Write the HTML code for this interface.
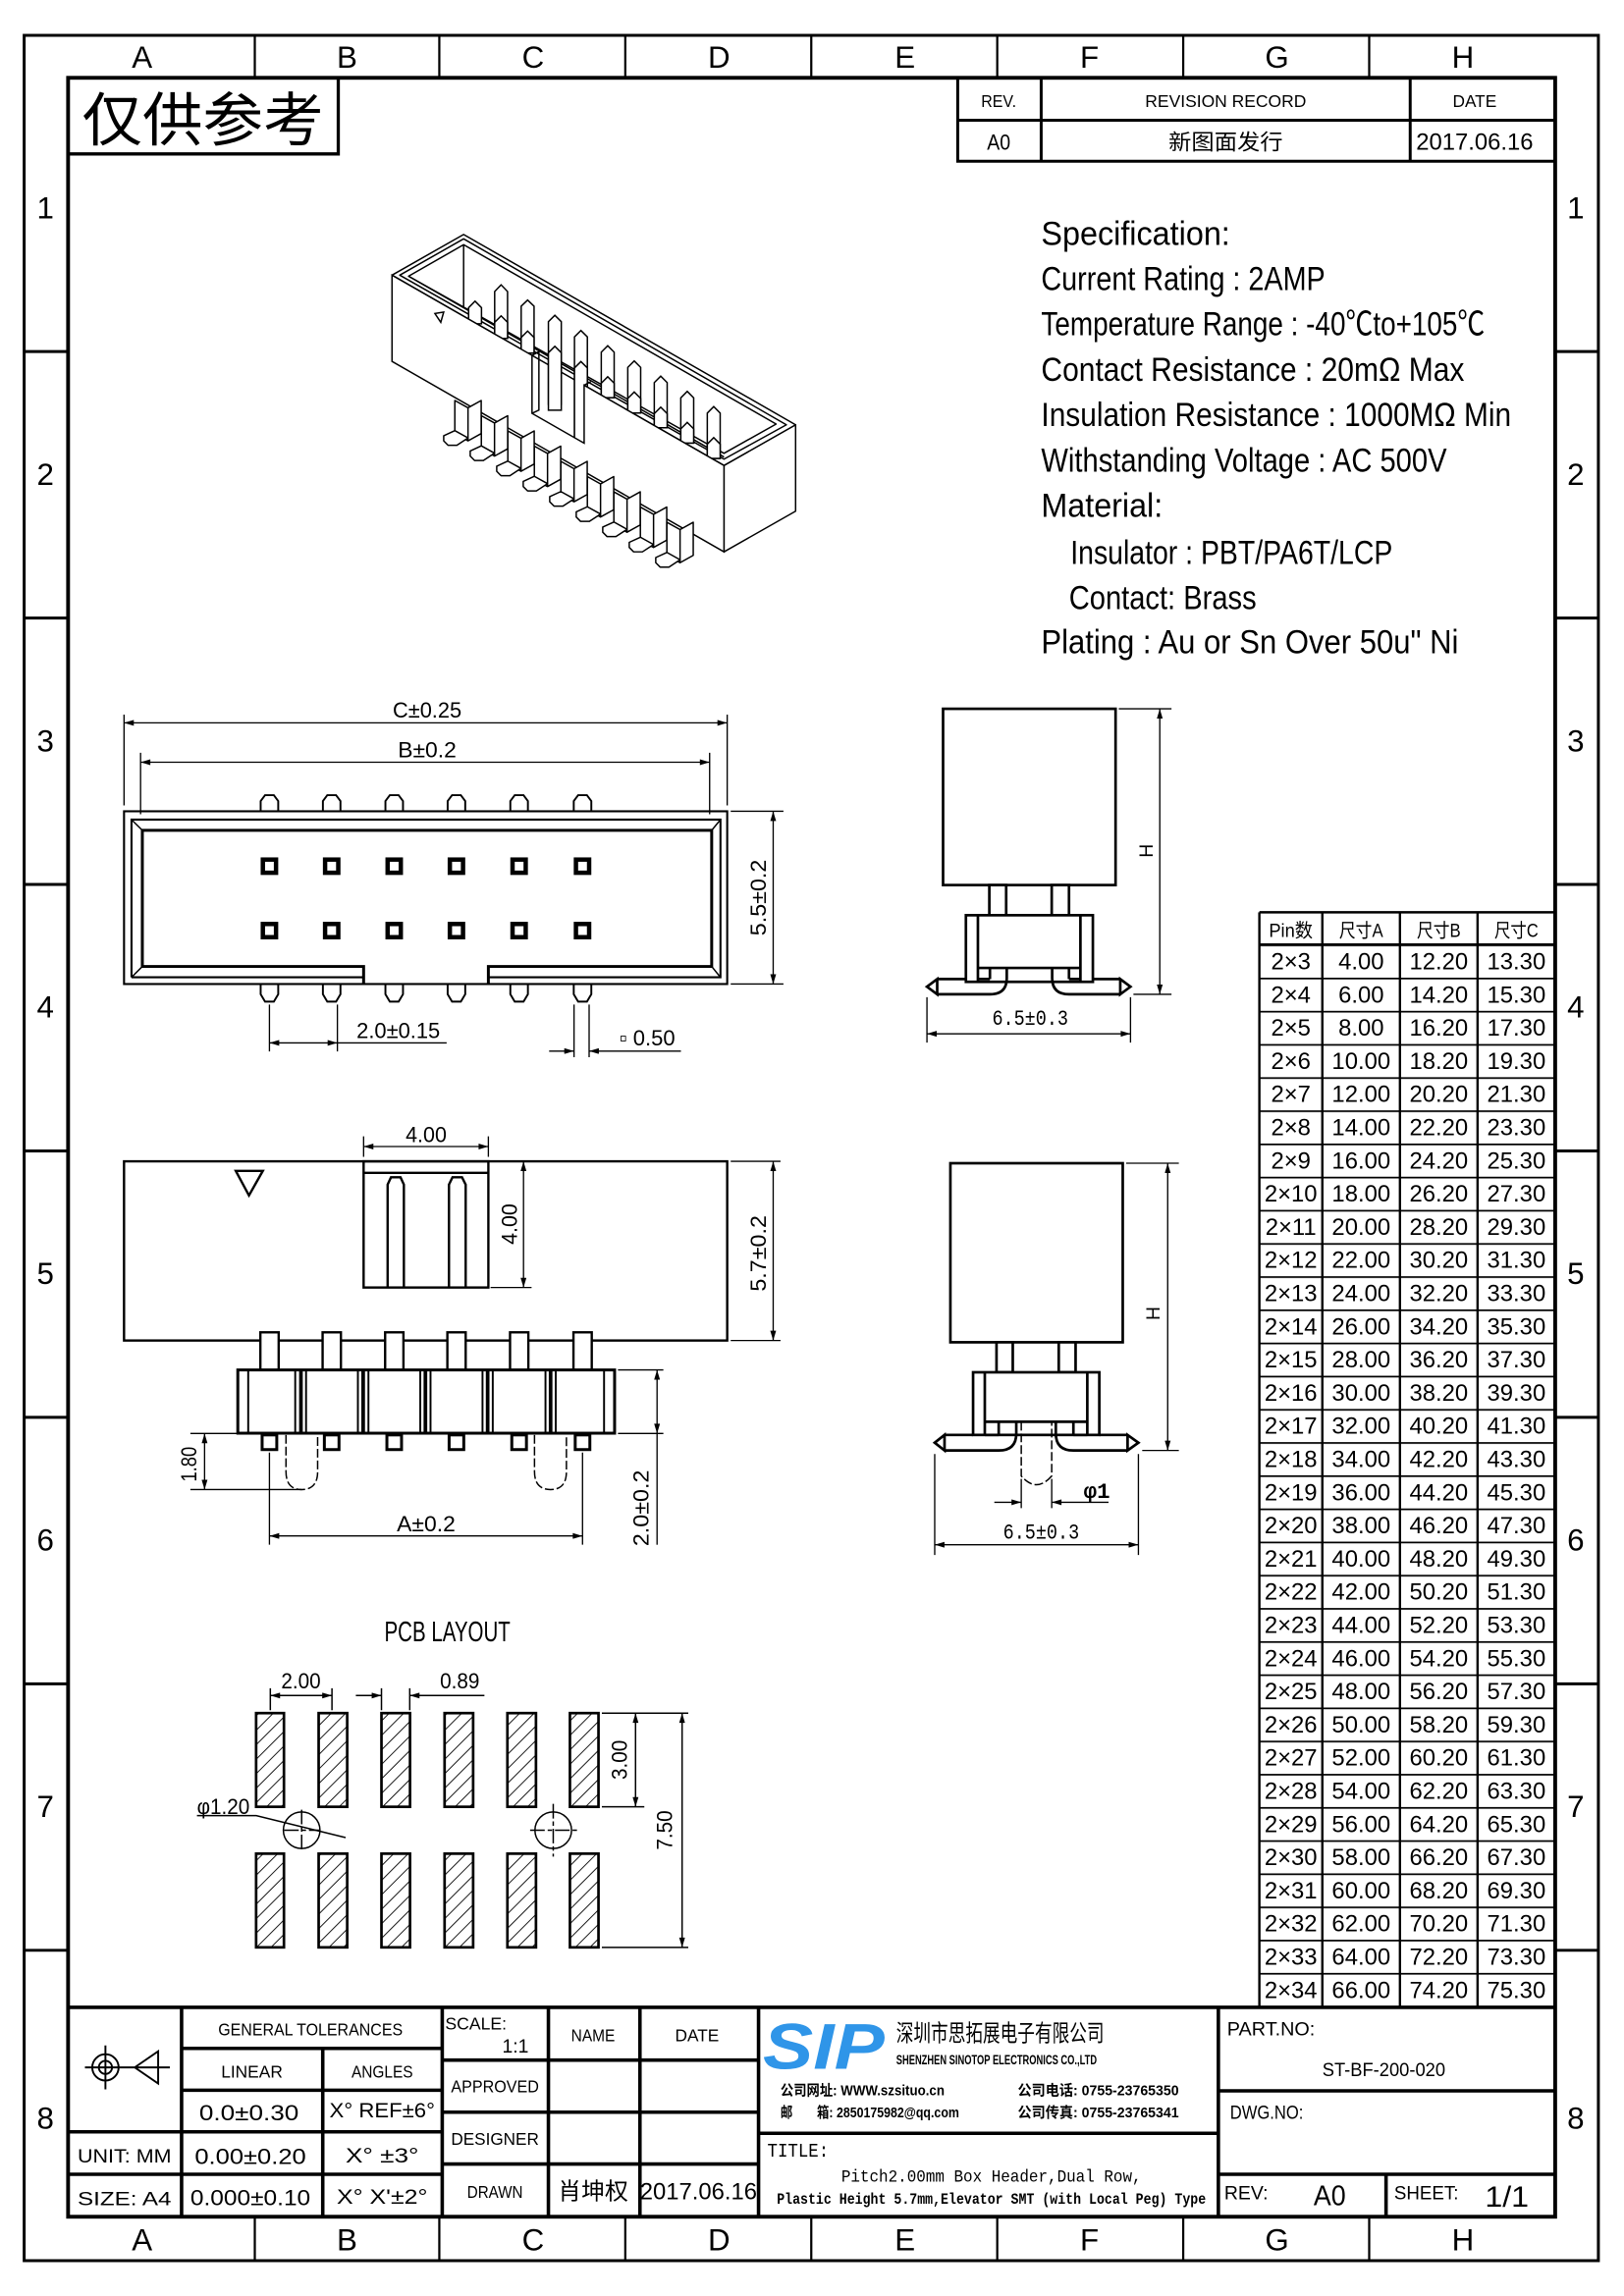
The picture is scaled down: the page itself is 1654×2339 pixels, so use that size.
<!DOCTYPE html>
<html><head><meta charset="utf-8"><style>
html,body{margin:0;padding:0;background:#fff;}
svg{display:block;}
text{font-family:"Liberation Sans Narrow","Liberation Sans","Noto Sans CJK SC",sans-serif;fill:#000;}
.cjk{font-family:"Liberation Sans","Noto Sans CJK SC",sans-serif;}
.d{font-family:"Liberation Mono","Liberation Sans",sans-serif;}
</style></head><body>
<svg width="1654" height="2339" viewBox="0 0 1109 1568" xmlns="http://www.w3.org/2000/svg">
<defs>
<marker id="ar" viewBox="0 0 10 6" refX="10" refY="3" markerWidth="7" markerHeight="4" orient="auto-start-reverse" markerUnits="userSpaceOnUse"><path d="M0,0 L10,3 L0,6 Z" fill="#000"/></marker>
<pattern id="hatch" patternUnits="userSpaceOnUse" width="7" height="7" patternTransform="rotate(45)"><line x1="0" y1="0" x2="0" y2="7" stroke="#000" stroke-width="1.2"/></pattern>
<pattern id="rows" patternUnits="userSpaceOnUse" x="0" y="645" width="300" height="22.66"><line x1="0" y1="0.5" x2="300" y2="0.5" stroke="#000" stroke-width="1.3"/></pattern>
</defs>
<rect width="1109" height="1568" fill="#fff"/>

<!-- borders -->
<rect x="16.5" y="24" width="1075" height="1520" fill="none" stroke="#000" stroke-width="2"/>
<rect x="46.5" y="53" width="1015.5" height="1461" fill="none" stroke="#000" stroke-width="2.6"/>
<g stroke="#000" stroke-width="1.5">
<line x1="174" y1="24" x2="174" y2="53"/><line x1="300" y1="24" x2="300" y2="53"/><line x1="427" y1="24" x2="427" y2="53"/><line x1="554" y1="24" x2="554" y2="53"/><line x1="681" y1="24" x2="681" y2="53"/><line x1="808" y1="24" x2="808" y2="53"/><line x1="935" y1="24" x2="935" y2="53"/>
<line x1="174" y1="1514" x2="174" y2="1544"/><line x1="300" y1="1514" x2="300" y2="1544"/><line x1="427" y1="1514" x2="427" y2="1544"/><line x1="554" y1="1514" x2="554" y2="1544"/><line x1="681" y1="1514" x2="681" y2="1544"/><line x1="808" y1="1514" x2="808" y2="1544"/><line x1="935" y1="1514" x2="935" y2="1544"/>
</g>
<g stroke="#000" stroke-width="2">
<line x1="16" y1="240" x2="46" y2="240"/><line x1="16" y1="422" x2="46" y2="422"/><line x1="16" y1="604" x2="46" y2="604"/><line x1="16" y1="786" x2="46" y2="786"/><line x1="16" y1="968" x2="46" y2="968"/><line x1="16" y1="1150" x2="46" y2="1150"/><line x1="16" y1="1332" x2="46" y2="1332"/>
<line x1="1062" y1="240" x2="1092" y2="240"/><line x1="1062" y1="422" x2="1092" y2="422"/><line x1="1062" y1="604" x2="1092" y2="604"/><line x1="1062" y1="786" x2="1092" y2="786"/><line x1="1062" y1="968" x2="1092" y2="968"/><line x1="1062" y1="1150" x2="1092" y2="1150"/><line x1="1062" y1="1332" x2="1092" y2="1332"/>
</g>
<g font-size="21" text-anchor="middle" style="font-family:'Liberation Sans',sans-serif">
<text x="97" y="46">A</text><text x="237" y="46">B</text><text x="364" y="46">C</text><text x="491" y="46">D</text><text x="618" y="46">E</text><text x="744" y="46">F</text><text x="872" y="46">G</text><text x="999" y="46">H</text>
<text x="97" y="1537">A</text><text x="237" y="1537">B</text><text x="364" y="1537">C</text><text x="491" y="1537">D</text><text x="618" y="1537">E</text><text x="744" y="1537">F</text><text x="872" y="1537">G</text><text x="999" y="1537">H</text>
<text x="31" y="149">1</text><text x="31" y="331">2</text><text x="31" y="513">3</text><text x="31" y="695">4</text><text x="31" y="877">5</text><text x="31" y="1059">6</text><text x="31" y="1241">7</text><text x="31" y="1454">8</text>
<text x="1076" y="149">1</text><text x="1076" y="331">2</text><text x="1076" y="513">3</text><text x="1076" y="695">4</text><text x="1076" y="877">5</text><text x="1076" y="1059">6</text><text x="1076" y="1241">7</text><text x="1076" y="1454">8</text>
</g>

<!-- reference only box -->
<path d="M46.5,105 H231 V53" fill="none" stroke="#000" stroke-width="2.2"/>
<text x="56" y="96" font-size="40" class="cjk" textLength="165" lengthAdjust="spacingAndGlyphs">仅供参考</text>

<!-- revision block -->
<path d="M654,53 V110 H1062 M654,82 H1062 M711,53 V110 M963,53 V110" fill="none" stroke="#000" stroke-width="2"/>
<g text-anchor="middle" font-size="12">
<text x="682" y="73" textLength="24" lengthAdjust="spacingAndGlyphs">REV.</text>
<text x="837" y="73" textLength="110" lengthAdjust="spacingAndGlyphs">REVISION RECORD</text>
<text x="1007" y="73" textLength="30" lengthAdjust="spacingAndGlyphs">DATE</text>
<text x="682" y="102" font-size="15" textLength="16" lengthAdjust="spacingAndGlyphs">A0</text>
<text x="837" y="102" font-size="15" class="cjk" textLength="78" lengthAdjust="spacingAndGlyphs">新图面发行</text>
<text x="1007" y="102" font-size="16" textLength="80" lengthAdjust="spacingAndGlyphs">2017.06.16</text>
</g>

<!-- specification -->
<g font-size="23">
<text x="711" y="167" textLength="129" lengthAdjust="spacingAndGlyphs">Specification:</text>
<text x="711" y="198" textLength="194" lengthAdjust="spacingAndGlyphs">Current Rating : 2AMP</text>
<text x="711" y="229" textLength="303" lengthAdjust="spacingAndGlyphs">Temperature Range : -40℃to+105℃</text>
<text x="711" y="260" textLength="289" lengthAdjust="spacingAndGlyphs">Contact Resistance : 20mΩ Max</text>
<text x="711" y="291" textLength="321" lengthAdjust="spacingAndGlyphs">Insulation Resistance : 1000MΩ Min</text>
<text x="711" y="322" textLength="277" lengthAdjust="spacingAndGlyphs">Withstanding Voltage : AC 500V</text>
<text x="711" y="353" textLength="83" lengthAdjust="spacingAndGlyphs">Material:</text>
<text x="731" y="385" textLength="220" lengthAdjust="spacingAndGlyphs">Insulator : PBT/PA6T/LCP</text>
<text x="730" y="416" textLength="128" lengthAdjust="spacingAndGlyphs">Contact: Brass</text>
<text x="711" y="446" textLength="285" lengthAdjust="spacingAndGlyphs">Plating : Au or Sn Over 50u" Ni</text>
</g>

<!-- ISO view -->
<g fill="#fff" stroke="#000" stroke-width="1" stroke-linejoin="round">
<path d="M494.4,317.8 L543.3,290 L543.3,349 L494.4,376.8 Z"/>
<path d="M267.7,187.8 L316.6,160 L543.3,290 L494.4,317.8 Z"/>
<path d="M273,187.8 L316.6,163 L537,290 L494.4,313.5 Z"/>
<path d="M279,188.5 L316.6,167 L530,289.5 L494.4,309.5 Z"/>
<line x1="316.6" y1="167" x2="316.6" y2="210"/>
<line x1="279" y1="188.5" x2="494.4" y2="312"/>
</g>
<g fill="#fff" stroke="#000" stroke-width="1">
<path d="M337.8,231 V199 L342.2,194.4 L346.6,199 V231 Z"/>
<path d="M355.9,241 V209 L360.3,204.8 L364.7,209 V241 Z"/>
<path d="M374.5,276 V219.6 L378.9,215.2 L383.3,219.6 V276 Z"/>
<path d="M392.3,298 V230 L396.7,225.6 L401.1,230 V298 Z"/>
<path d="M410.6,271.5 V240.4 L415,236 L419.4,240.4 V271.5 Z"/>
<path d="M428.7,282 V250.8 L433.1,246.4 L437.5,250.8 V282 Z"/>
<path d="M446.8,292 V261.2 L451.2,256.8 L455.6,261.2 V292 Z"/>
<path d="M464.9,302.5 V271.6 L469.3,267.2 L473.7,271.6 V302.5 Z"/>
<path d="M483,313 V282 L487.4,277.6 L491.8,282 V313 Z"/>
</g>
<g fill="#fff" stroke="#000" stroke-width="1">
<path d="M320,221 V210 L324.4,205.6 L328.8,210 V221 Z"/>
<path d="M337.8,231 V220 L342.2,215.6 L346.6,220 V231 Z"/>
<path d="M355.9,241 V230.4 L360.3,226 L364.7,230.4 V241 Z"/>
<path d="M374.5,280 V240.8 L378.9,236.4 L383.3,240.8 V280 Z"/>
<path d="M392.3,302 V251.2 L396.7,246.8 L401.1,251.2 V302 Z"/>
<path d="M410.6,271.5 V261.6 L415,257.2 L419.4,261.6 V271.5 Z"/>
<path d="M428.7,282 V272 L433.1,267.6 L437.5,272 V282 Z"/>
<path d="M446.8,292 V282.4 L451.2,278 L455.6,282.4 V292 Z"/>
<path d="M464.9,302.5 V292.8 L469.3,288.4 L473.7,292.8 V302.5 Z"/>
<path d="M483,313 V303.2 L487.4,298.8 L491.8,303.2 V313 Z"/>
</g>
<path d="M267.7,187.8 L363.3,242.6 L363.3,282.2 L398.9,302.6 L398.9,263 L494.4,317.8 L494.4,376.8 L267.7,246.7 Z" fill="#fff" stroke="#000" stroke-width="1"/>
<path d="M363.3,242.6 L368,240 L368,280 L363.3,282.2" fill="none" stroke="#000" stroke-width="1"/>
<line x1="398.9" y1="263" x2="403.5" y2="260.5" stroke="#000" stroke-width="1"/>
<g fill="#fff" stroke="#000" stroke-width="1" stroke-linejoin="round">
<path d="M310.6,273.4 L319.6,278.4 L328.6,273.4 L328.6,296 L319.6,301 L310.6,296 Z M319.6,278.4 V301"/>
<path d="M310.6,294 L319.6,299 L312,304 L306,304 L303,301 L303,297.5 Z"/>
<g transform="translate(18.1,10.4)"><path d="M310.6,273.4 L319.6,278.4 L328.6,273.4 L328.6,296 L319.6,301 L310.6,296 Z M319.6,278.4 V301"/><path d="M310.6,294 L319.6,299 L312,304 L306,304 L303,301 L303,297.5 Z"/></g>
<g transform="translate(36.2,20.8)"><path d="M310.6,273.4 L319.6,278.4 L328.6,273.4 L328.6,296 L319.6,301 L310.6,296 Z M319.6,278.4 V301"/><path d="M310.6,294 L319.6,299 L312,304 L306,304 L303,301 L303,297.5 Z"/></g>
<g transform="translate(54.3,31.2)"><path d="M310.6,273.4 L319.6,278.4 L328.6,273.4 L328.6,296 L319.6,301 L310.6,296 Z M319.6,278.4 V301"/><path d="M310.6,294 L319.6,299 L312,304 L306,304 L303,301 L303,297.5 Z"/></g>
<g transform="translate(72.4,41.6)"><path d="M310.6,273.4 L319.6,278.4 L328.6,273.4 L328.6,296 L319.6,301 L310.6,296 Z M319.6,278.4 V301"/><path d="M310.6,294 L319.6,299 L312,304 L306,304 L303,301 L303,297.5 Z"/></g>
<g transform="translate(90.5,52)"><path d="M310.6,273.4 L319.6,278.4 L328.6,273.4 L328.6,296 L319.6,301 L310.6,296 Z M319.6,278.4 V301"/><path d="M310.6,294 L319.6,299 L312,304 L306,304 L303,301 L303,297.5 Z"/></g>
<g transform="translate(108.6,62.4)"><path d="M310.6,273.4 L319.6,278.4 L328.6,273.4 L328.6,296 L319.6,301 L310.6,296 Z M319.6,278.4 V301"/><path d="M310.6,294 L319.6,299 L312,304 L306,304 L303,301 L303,297.5 Z"/></g>
<g transform="translate(126.7,72.8)"><path d="M310.6,273.4 L319.6,278.4 L328.6,273.4 L328.6,296 L319.6,301 L310.6,296 Z M319.6,278.4 V301"/><path d="M310.6,294 L319.6,299 L312,304 L306,304 L303,301 L303,297.5 Z"/></g>
<g transform="translate(144.8,83.2)"><path d="M310.6,273.4 L319.6,278.4 L328.6,273.4 L328.6,296 L319.6,301 L310.6,296 Z M319.6,278.4 V301"/><path d="M310.6,294 L319.6,299 L312,304 L306,304 L303,301 L303,297.5 Z"/></g>
</g>
<path d="M297,214 L303,213 L301,220 Z" fill="none" stroke="#000" stroke-width="1"/>

<!-- FRONT VIEW top -->
<g fill="none" stroke="#000" stroke-width="1.4">
<rect x="84.7" y="554" width="411.9" height="118"/>
<path d="M248.3,672 V660 H97.2 V567 H486 V660 H333.5 V672" stroke-width="2"/>
<path d="M89.8,667.4 H248.3 M333.5,667.4 H492 V559.7 H89.8 V667.4"/>
<path d="M89.8,559.7 L97.2,567 M492,559.7 L486,567 M89.8,667.4 L97.2,660 M492,667.4 L486,660" stroke-width="1"/>
</g>
<g fill="none" stroke="#000" stroke-width="1.3">
<path d="M178,554 V547 L181,543 H187 L190,547 V554"/><path d="M220.5,554 V547 L223.5,543 H229.5 L232.5,547 V554"/><path d="M263.2,554 V547 L266.2,543 H272.2 L275.2,547 V554"/><path d="M305.7,554 V547 L308.7,543 H314.7 L317.7,547 V554"/><path d="M348.5,554 V547 L351.5,543 H357.5 L360.5,547 V554"/><path d="M391.8,554 V547 L394.8,543 H400.8 L403.8,547 V554"/>
<path d="M178,672 V679 L181,684 H187 L190,679 V672"/><path d="M220.5,672 V679 L223.5,684 H229.5 L232.5,679 V672"/><path d="M263.2,672 V679 L266.2,684 H272.2 L275.2,679 V672"/><path d="M305.7,672 V679 L308.7,684 H314.7 L317.7,679 V672"/><path d="M348.5,672 V679 L351.5,684 H357.5 L360.5,679 V672"/><path d="M391.8,672 V679 L394.8,684 H400.8 L403.8,679 V672"/>
</g>
<g fill="#fff" stroke="#000" stroke-width="3">
<rect x="179.5" y="587" width="9" height="9"/><rect x="222" y="587" width="9" height="9"/><rect x="264.7" y="587" width="9" height="9"/><rect x="307.2" y="587" width="9" height="9"/><rect x="350" y="587" width="9" height="9"/><rect x="393.3" y="587" width="9" height="9"/>
<rect x="179.5" y="631" width="9" height="9"/><rect x="222" y="631" width="9" height="9"/><rect x="264.7" y="631" width="9" height="9"/><rect x="307.2" y="631" width="9" height="9"/><rect x="350" y="631" width="9" height="9"/><rect x="393.3" y="631" width="9" height="9"/>
</g>
<g stroke="#000" stroke-width="0.9" fill="none">
<path d="M84.7,550 V488 M496.6,550 V488 M96,556 V514 M484.6,556 V514"/>
<line x1="84.7" y1="493.6" x2="496.6" y2="493.6" marker-start="url(#ar)" marker-end="url(#ar)"/>
<line x1="96" y1="520.5" x2="484.6" y2="520.5" marker-start="url(#ar)" marker-end="url(#ar)"/>
<path d="M499,554 H535 M499,672 H535"/>
<line x1="528" y1="554" x2="528" y2="672" marker-start="url(#ar)" marker-end="url(#ar)"/>
<path d="M184,686 V718 M230.4,686 V718"/>
<line x1="184" y1="712.2" x2="230.4" y2="712.2" marker-start="url(#ar)" marker-end="url(#ar)"/>
<line x1="230.4" y1="712.2" x2="305" y2="712.2"/>
<path d="M392,686 V722 M402.3,686 V722"/>
<line x1="375" y1="717.8" x2="392" y2="717.8" marker-end="url(#ar)"/>
<line x1="465" y1="717.8" x2="402.3" y2="717.8" marker-end="url(#ar)"/>
</g>
<g font-size="15">
<text x="291.7" y="490" text-anchor="middle" textLength="47" lengthAdjust="spacingAndGlyphs">C±0.25</text>
<text x="291.7" y="517" text-anchor="middle" textLength="40" lengthAdjust="spacingAndGlyphs">B±0.2</text>
<text x="272" y="709" text-anchor="middle" textLength="57" lengthAdjust="spacingAndGlyphs">2.0±0.15</text>
<text x="442" y="714" text-anchor="middle" textLength="38" lengthAdjust="spacingAndGlyphs">▫ 0.50</text>
<text transform="translate(523,613) rotate(-90)" text-anchor="middle" textLength="52" lengthAdjust="spacingAndGlyphs">5.5±0.2</text>
</g>

<!-- SIDE VIEW left bottom -->
<g fill="none" stroke="#000" stroke-width="1.6">
<rect x="84.7" y="793.1" width="411.9" height="122.4"/>
<rect x="248.3" y="793.1" width="85.2" height="86.2"/>
<line x1="248.3" y1="801" x2="333.5" y2="801"/>
<path d="M264.7,879 V809 L267,804 H273.5 L275.8,809 V879 M306.6,879 V809 L309,804 H315.5 L318,809 V879"/>
<path d="M161,799.6 H179.5 L170,816.4 Z"/>
</g>
<g fill="#fff" stroke="#000" stroke-width="1.6">
<rect x="177.8" y="909.9" width="12.5" height="25.7"/><rect x="220.3" y="909.9" width="12.5" height="25.7"/><rect x="263" y="909.9" width="12.5" height="25.7"/><rect x="305.5" y="909.9" width="12.5" height="25.7"/><rect x="348.3" y="909.9" width="12.5" height="25.7"/><rect x="391.6" y="909.9" width="12.5" height="25.7"/>
<rect x="162.4" y="935.6" width="257.3" height="43.2" stroke-width="2"/>
</g>
<g stroke="#000" stroke-width="1.3">
<line x1="169.5" y1="935.6" x2="169.5" y2="978.8"/>
<line x1="412.5" y1="935.6" x2="412.5" y2="978.8"/>
<line x1="201.6" y1="935.6" x2="201.6" y2="978.8"/><line x1="205.5" y1="935.6" x2="205.5" y2="978.8" stroke-width="2.5"/><line x1="209" y1="935.6" x2="209" y2="978.8"/>
<line x1="244.4" y1="935.6" x2="244.4" y2="978.8"/><line x1="248" y1="935.6" x2="248" y2="978.8" stroke-width="2.5"/><line x1="251.6" y1="935.6" x2="251.6" y2="978.8"/>
<line x1="287" y1="935.6" x2="287" y2="978.8"/><line x1="290.5" y1="935.6" x2="290.5" y2="978.8" stroke-width="2.5"/><line x1="294" y1="935.6" x2="294" y2="978.8"/>
<line x1="329.5" y1="935.6" x2="329.5" y2="978.8"/><line x1="333" y1="935.6" x2="333" y2="978.8" stroke-width="2.5"/><line x1="336.5" y1="935.6" x2="336.5" y2="978.8"/>
<line x1="372.5" y1="935.6" x2="372.5" y2="978.8"/><line x1="376" y1="935.6" x2="376" y2="978.8" stroke-width="2.5"/><line x1="379.5" y1="935.6" x2="379.5" y2="978.8"/>
</g>
<g fill="#fff" stroke="#000" stroke-width="2">
<rect x="179" y="980" width="10" height="10"/><rect x="221.5" y="980" width="10" height="10"/><rect x="264.2" y="980" width="10" height="10"/><rect x="306.7" y="980" width="10" height="10"/><rect x="349.5" y="980" width="10" height="10"/><rect x="392.8" y="980" width="10" height="10"/>
</g>
<g fill="none" stroke="#000" stroke-width="1" stroke-dasharray="6,2">
<path d="M195.3,980 V1005 Q195.3,1017.3 206,1017.3 Q216.9,1017.3 216.9,1005 V980"/>
<path d="M365,980 V1005 Q365,1017.3 376,1017.3 Q386.8,1017.3 386.8,1005 V980"/>
</g>
<g stroke="#000" stroke-width="0.9" fill="none">
<path d="M248.3,790 V776 M333.5,790 V776"/>
<line x1="248.3" y1="783" x2="333.5" y2="783" marker-start="url(#ar)" marker-end="url(#ar)"/>
<line x1="335" y1="879.3" x2="363" y2="879.3"/>
<line x1="357.5" y1="793.1" x2="357.5" y2="879.3" marker-start="url(#ar)" marker-end="url(#ar)"/>
<path d="M499,793.1 H533 M499,915.5 H533"/>
<line x1="528" y1="793.1" x2="528" y2="915.5" marker-start="url(#ar)" marker-end="url(#ar)"/>
<path d="M130,979 H178 M130,1017.3 H206"/>
<line x1="139.7" y1="979" x2="139.7" y2="1017.3" marker-start="url(#ar)" marker-end="url(#ar)"/>
<path d="M422,935.6 H453 M422,979 H453"/>
<line x1="448.7" y1="935.6" x2="448.7" y2="979" marker-start="url(#ar)" marker-end="url(#ar)"/>
<line x1="448.7" y1="979" x2="448.7" y2="1055"/>
<path d="M184,992 V1055 M397.8,992 V1055"/>
<line x1="184" y1="1049" x2="397.8" y2="1049" marker-start="url(#ar)" marker-end="url(#ar)"/>
</g>
<g font-size="15">
<text x="291" y="780" text-anchor="middle" textLength="28" lengthAdjust="spacingAndGlyphs">4.00</text>
<text transform="translate(353,836) rotate(-90)" text-anchor="middle" textLength="28" lengthAdjust="spacingAndGlyphs">4.00</text>
<text transform="translate(523,856) rotate(-90)" text-anchor="middle" textLength="52" lengthAdjust="spacingAndGlyphs">5.7±0.2</text>
<text transform="translate(134,1000) rotate(-90)" text-anchor="middle" textLength="24" lengthAdjust="spacingAndGlyphs">1.80</text>
<text transform="translate(443,1030) rotate(-90)" text-anchor="middle" textLength="52" lengthAdjust="spacingAndGlyphs">2.0±0.2</text>
<text x="291" y="1046" text-anchor="middle" textLength="40" lengthAdjust="spacingAndGlyphs">A±0.2</text>
</g>

<!-- RIGHT SIDE VIEW upper -->
<g fill="#fff" stroke="#000" stroke-width="1.8">
<rect x="644" y="484" width="117.8" height="120.4"/>
<rect x="675.6" y="604.4" width="11.5" height="20.6"/><rect x="718.2" y="604.4" width="11.8" height="20.6"/>
<rect x="659.6" y="625" width="86.7" height="45.5"/>
<line x1="667.8" y1="625" x2="667.8" y2="670.5"/><line x1="737.8" y1="625" x2="737.8" y2="670.5"/>
<line x1="667.8" y1="661" x2="737.8" y2="661"/>
<path d="M640,668.6 H659.6 M640,679 H676 Q687.5,679 687.5,668 V661 M676,668.6 V661 M667.8,668.6 H676 M633,673.8 L640,668.6 V679 Z" fill="none"/>
<path d="M765,668.6 H746.3 M765,679 H730 Q718.5,679 718.5,668 V661 M730,668.6 V661 M737.8,668.6 H730 M772,673.8 L765,668.6 V679 Z" fill="none"/>
</g>
<g stroke="#000" stroke-width="0.9" fill="none">
<path d="M764,484 H800 M774,679 H800"/>
<line x1="792" y1="484" x2="792" y2="679" marker-start="url(#ar)" marker-end="url(#ar)"/>
<path d="M633,681 V712 M772,681 V712"/>
<line x1="633" y1="706" x2="772" y2="706" marker-start="url(#ar)" marker-end="url(#ar)"/>
</g>
<text x="703.5" y="700" font-size="15" text-anchor="middle" class="d" textLength="52" lengthAdjust="spacingAndGlyphs">6.5±0.3</text>
<text transform="translate(787,581) rotate(-90)" font-size="13" text-anchor="middle">H</text>

<!-- RIGHT SIDE VIEW lower -->
<g fill="#fff" stroke="#000" stroke-width="1.8">
<rect x="649" y="794.4" width="117.7" height="122.3"/>
<rect x="680.5" y="916.7" width="11.1" height="20.5"/><rect x="723" y="916.7" width="11.5" height="20.5"/>
<rect x="664.5" y="937.2" width="86.2" height="42.8"/>
<line x1="672.5" y1="937.2" x2="672.5" y2="980"/><line x1="742.5" y1="937.2" x2="742.5" y2="980"/>
<line x1="672.5" y1="971" x2="742.5" y2="971"/>
<path d="M645,980 H664.5 M645,990.6 H682 Q694,990.6 694,979 V971 M682,980 V971 M672.5,980 H682 M638.3,985.3 L645,980 V990.6 Z" fill="none"/>
<path d="M770,980 H750.7 M770,990.6 H733 Q721,990.6 721,979 V971 M733,980 V971 M742.5,980 H733 M777.4,985.3 L770,980 V990.6 Z" fill="none"/>
</g>
<path d="M697.4,971 V1008 Q707.8,1020 718.2,1008 V971" fill="none" stroke="#000" stroke-width="1" stroke-dasharray="6,2"/>
<g stroke="#000" stroke-width="0.9" fill="none">
<path d="M769,794.4 H805 M780,990.6 H805"/>
<line x1="797.4" y1="794.4" x2="797.4" y2="990.6" marker-start="url(#ar)" marker-end="url(#ar)"/>
<line x1="679" y1="1026" x2="697.4" y2="1026" marker-end="url(#ar)"/>
<line x1="757" y1="1026" x2="718.2" y2="1026" marker-end="url(#ar)"/>
<path d="M697.4,1010 V1030 M718.2,1010 V1030"/>
<path d="M638.3,993 V1062 M777.4,993 V1062"/>
<line x1="638.3" y1="1055" x2="777.4" y2="1055" marker-start="url(#ar)" marker-end="url(#ar)"/>
</g>
<text x="740" y="1023" font-size="15" class="d" font-weight="bold">φ1</text>
<text x="711" y="1051" font-size="15" text-anchor="middle" class="d" textLength="52" lengthAdjust="spacingAndGlyphs">6.5±0.3</text>
<text transform="translate(792,897) rotate(-90)" font-size="13" text-anchor="middle">H</text>

<!-- PCB LAYOUT -->
<text x="305.5" y="1121" font-size="19" text-anchor="middle" textLength="86" lengthAdjust="spacingAndGlyphs">PCB LAYOUT</text>
<g fill="url(#hatch)" stroke="#000" stroke-width="1.8">
<rect x="174.9" y="1170" width="19" height="64"/><rect x="217.6" y="1170" width="19.5" height="64"/><rect x="260.5" y="1170" width="19.5" height="64"/><rect x="303.6" y="1170" width="19.5" height="64"/><rect x="346.5" y="1170" width="19.5" height="64"/><rect x="389.2" y="1170" width="19.5" height="64"/>
<rect x="174.9" y="1266" width="19" height="64"/><rect x="217.6" y="1266" width="19.5" height="64"/><rect x="260.5" y="1266" width="19.5" height="64"/><rect x="303.6" y="1266" width="19.5" height="64"/><rect x="346.5" y="1266" width="19.5" height="64"/><rect x="389.2" y="1266" width="19.5" height="64"/>
</g>
<g fill="none" stroke="#000" stroke-width="1">
<circle cx="206" cy="1250" r="12.5"/><circle cx="377.8" cy="1250" r="12.5"/>
<path d="M194,1250 H218 M206,1236 V1264 M362,1250 H394 M377.8,1232 V1268" stroke-dasharray="10,2,3,2"/>
<path d="M134.5,1240 H175 L236,1255"/>
<path d="M184.6,1168 V1153 M226.7,1168 V1153"/>
<line x1="184.6" y1="1158" x2="226.7" y2="1158" marker-start="url(#ar)" marker-end="url(#ar)"/>
<path d="M260.5,1168 V1153 M279.8,1168 V1153"/>
<line x1="243" y1="1158" x2="260.5" y2="1158" marker-end="url(#ar)"/>
<line x1="330.8" y1="1158" x2="279.8" y2="1158" marker-end="url(#ar)"/>
<path d="M411,1170 H470 M411,1234 H440 M411,1330 H470"/>
<line x1="434" y1="1170" x2="434" y2="1234" marker-start="url(#ar)" marker-end="url(#ar)"/>
<line x1="465.8" y1="1170" x2="465.8" y2="1330" marker-start="url(#ar)" marker-end="url(#ar)"/>
</g>
<g font-size="15">
<text x="205.5" y="1153" text-anchor="middle" textLength="27" lengthAdjust="spacingAndGlyphs">2.00</text>
<text x="314" y="1153" text-anchor="middle" textLength="27" lengthAdjust="spacingAndGlyphs">0.89</text>
<text x="134.5" y="1239" textLength="36" lengthAdjust="spacingAndGlyphs">φ1.20</text>
<text transform="translate(428,1202) rotate(-90)" text-anchor="middle" textLength="27" lengthAdjust="spacingAndGlyphs">3.00</text>
<text transform="translate(459,1250) rotate(-90)" text-anchor="middle" textLength="27" lengthAdjust="spacingAndGlyphs">7.50</text>
</g>

<!-- TABLE -->
<rect x="860" y="645" width="202" height="725" fill="url(#rows)"/>
<g stroke="#000" stroke-width="1.6" fill="none">
<path d="M860,623 H1062 M860,645 H1062 M860,623 V1371 M903,623 V1371 M956,623 V1371 M1009,623 V1371"/>
</g>
<g font-size="15" text-anchor="middle">
<text x="881.5" y="640" font-size="13" class="cjk" textLength="30" lengthAdjust="spacingAndGlyphs">Pin数</text>
<text x="929.5" y="640" font-size="13" class="cjk" textLength="30" lengthAdjust="spacingAndGlyphs">尺寸A</text>
<text x="982.5" y="640" font-size="13" class="cjk" textLength="30" lengthAdjust="spacingAndGlyphs">尺寸B</text>
<text x="1035.5" y="640" font-size="13" class="cjk" textLength="30" lengthAdjust="spacingAndGlyphs">尺寸C</text>
</g>
<g font-size="16" text-anchor="middle">
<g transform="translate(0,662)"><text x="881.5" y="0">2×3</text><text x="929.5" y="0">4.00</text><text x="982.5" y="0">12.20</text><text x="1035.5" y="0">13.30</text></g>
<g transform="translate(0,684.7)"><text x="881.5" y="0">2×4</text><text x="929.5" y="0">6.00</text><text x="982.5" y="0">14.20</text><text x="1035.5" y="0">15.30</text></g>
<g transform="translate(0,707.3)"><text x="881.5" y="0">2×5</text><text x="929.5" y="0">8.00</text><text x="982.5" y="0">16.20</text><text x="1035.5" y="0">17.30</text></g>
<g transform="translate(0,730)"><text x="881.5" y="0">2×6</text><text x="929.5" y="0">10.00</text><text x="982.5" y="0">18.20</text><text x="1035.5" y="0">19.30</text></g>
<g transform="translate(0,752.6)"><text x="881.5" y="0">2×7</text><text x="929.5" y="0">12.00</text><text x="982.5" y="0">20.20</text><text x="1035.5" y="0">21.30</text></g>
<g transform="translate(0,775.3)"><text x="881.5" y="0">2×8</text><text x="929.5" y="0">14.00</text><text x="982.5" y="0">22.20</text><text x="1035.5" y="0">23.30</text></g>
<g transform="translate(0,798)"><text x="881.5" y="0">2×9</text><text x="929.5" y="0">16.00</text><text x="982.5" y="0">24.20</text><text x="1035.5" y="0">25.30</text></g>
<g transform="translate(0,820.6)"><text x="881.5" y="0">2×10</text><text x="929.5" y="0">18.00</text><text x="982.5" y="0">26.20</text><text x="1035.5" y="0">27.30</text></g>
<g transform="translate(0,843.3)"><text x="881.5" y="0">2×11</text><text x="929.5" y="0">20.00</text><text x="982.5" y="0">28.20</text><text x="1035.5" y="0">29.30</text></g>
<g transform="translate(0,865.9)"><text x="881.5" y="0">2×12</text><text x="929.5" y="0">22.00</text><text x="982.5" y="0">30.20</text><text x="1035.5" y="0">31.30</text></g>
<g transform="translate(0,888.6)"><text x="881.5" y="0">2×13</text><text x="929.5" y="0">24.00</text><text x="982.5" y="0">32.20</text><text x="1035.5" y="0">33.30</text></g>
<g transform="translate(0,911.3)"><text x="881.5" y="0">2×14</text><text x="929.5" y="0">26.00</text><text x="982.5" y="0">34.20</text><text x="1035.5" y="0">35.30</text></g>
<g transform="translate(0,933.9)"><text x="881.5" y="0">2×15</text><text x="929.5" y="0">28.00</text><text x="982.5" y="0">36.20</text><text x="1035.5" y="0">37.30</text></g>
<g transform="translate(0,956.6)"><text x="881.5" y="0">2×16</text><text x="929.5" y="0">30.00</text><text x="982.5" y="0">38.20</text><text x="1035.5" y="0">39.30</text></g>
<g transform="translate(0,979.2)"><text x="881.5" y="0">2×17</text><text x="929.5" y="0">32.00</text><text x="982.5" y="0">40.20</text><text x="1035.5" y="0">41.30</text></g>
<g transform="translate(0,1001.9)"><text x="881.5" y="0">2×18</text><text x="929.5" y="0">34.00</text><text x="982.5" y="0">42.20</text><text x="1035.5" y="0">43.30</text></g>
<g transform="translate(0,1024.6)"><text x="881.5" y="0">2×19</text><text x="929.5" y="0">36.00</text><text x="982.5" y="0">44.20</text><text x="1035.5" y="0">45.30</text></g>
<g transform="translate(0,1047.2)"><text x="881.5" y="0">2×20</text><text x="929.5" y="0">38.00</text><text x="982.5" y="0">46.20</text><text x="1035.5" y="0">47.30</text></g>
<g transform="translate(0,1069.9)"><text x="881.5" y="0">2×21</text><text x="929.5" y="0">40.00</text><text x="982.5" y="0">48.20</text><text x="1035.5" y="0">49.30</text></g>
<g transform="translate(0,1092.5)"><text x="881.5" y="0">2×22</text><text x="929.5" y="0">42.00</text><text x="982.5" y="0">50.20</text><text x="1035.5" y="0">51.30</text></g>
<g transform="translate(0,1115.2)"><text x="881.5" y="0">2×23</text><text x="929.5" y="0">44.00</text><text x="982.5" y="0">52.20</text><text x="1035.5" y="0">53.30</text></g>
<g transform="translate(0,1137.9)"><text x="881.5" y="0">2×24</text><text x="929.5" y="0">46.00</text><text x="982.5" y="0">54.20</text><text x="1035.5" y="0">55.30</text></g>
<g transform="translate(0,1160.5)"><text x="881.5" y="0">2×25</text><text x="929.5" y="0">48.00</text><text x="982.5" y="0">56.20</text><text x="1035.5" y="0">57.30</text></g>
<g transform="translate(0,1183.2)"><text x="881.5" y="0">2×26</text><text x="929.5" y="0">50.00</text><text x="982.5" y="0">58.20</text><text x="1035.5" y="0">59.30</text></g>
<g transform="translate(0,1205.8)"><text x="881.5" y="0">2×27</text><text x="929.5" y="0">52.00</text><text x="982.5" y="0">60.20</text><text x="1035.5" y="0">61.30</text></g>
<g transform="translate(0,1228.5)"><text x="881.5" y="0">2×28</text><text x="929.5" y="0">54.00</text><text x="982.5" y="0">62.20</text><text x="1035.5" y="0">63.30</text></g>
<g transform="translate(0,1251.2)"><text x="881.5" y="0">2×29</text><text x="929.5" y="0">56.00</text><text x="982.5" y="0">64.20</text><text x="1035.5" y="0">65.30</text></g>
<g transform="translate(0,1273.8)"><text x="881.5" y="0">2×30</text><text x="929.5" y="0">58.00</text><text x="982.5" y="0">66.20</text><text x="1035.5" y="0">67.30</text></g>
<g transform="translate(0,1296.5)"><text x="881.5" y="0">2×31</text><text x="929.5" y="0">60.00</text><text x="982.5" y="0">68.20</text><text x="1035.5" y="0">69.30</text></g>
<g transform="translate(0,1319.1)"><text x="881.5" y="0">2×32</text><text x="929.5" y="0">62.00</text><text x="982.5" y="0">70.20</text><text x="1035.5" y="0">71.30</text></g>
<g transform="translate(0,1341.8)"><text x="881.5" y="0">2×33</text><text x="929.5" y="0">64.00</text><text x="982.5" y="0">72.20</text><text x="1035.5" y="0">73.30</text></g>
<g transform="translate(0,1364.5)"><text x="881.5" y="0">2×34</text><text x="929.5" y="0">66.00</text><text x="982.5" y="0">74.20</text><text x="1035.5" y="0">75.30</text></g>
</g>

<!-- TITLE BLOCK -->
<g stroke="#000" stroke-width="2.4" fill="none">
<line x1="46.5" y1="1371" x2="1062" y2="1371"/>
<path d="M124,1371 V1514 M46.5,1456 H302 M46.5,1485 H302 M124,1399 H302 M124,1427.6 H302 M220.4,1399 V1514 M302,1371 V1514 M374.5,1371 V1514 M437,1371 V1514 M302,1407 H518 M302,1442.6 H518 M302,1478 H518 M518,1371 V1514 M518,1457 H832 M832,1371 V1514 M832,1428 H1062 M832,1485 H1062 M946.5,1485 V1514"/>
</g>
<g fill="none" stroke="#000" stroke-width="1.3">
<circle cx="72" cy="1412" r="9"/><circle cx="72" cy="1412" r="4.5"/>
<path d="M58,1412 H116 M72,1397 V1427 M92,1412 L108,1401 V1423 Z"/>
</g>
<g font-size="12" text-anchor="middle">
<text x="212" y="1390" textLength="126" lengthAdjust="spacingAndGlyphs">GENERAL TOLERANCES</text>
<text x="172" y="1419" textLength="42" lengthAdjust="spacingAndGlyphs">LINEAR</text>
<text x="261" y="1419" textLength="42" lengthAdjust="spacingAndGlyphs">ANGLES</text>
<text x="170" y="1448" font-size="15" textLength="68" lengthAdjust="spacingAndGlyphs">0.0±0.30</text>
<text x="261" y="1446" font-size="14" textLength="72" lengthAdjust="spacingAndGlyphs">X° REF±6°</text>
<text x="85" y="1477" font-size="13" textLength="64" lengthAdjust="spacingAndGlyphs">UNIT: MM</text>
<text x="171" y="1478" font-size="15" textLength="76" lengthAdjust="spacingAndGlyphs">0.00±0.20</text>
<text x="261" y="1477" font-size="14" textLength="50" lengthAdjust="spacingAndGlyphs">X° ±3°</text>
<text x="85" y="1506" font-size="13" textLength="64" lengthAdjust="spacingAndGlyphs">SIZE: A4</text>
<text x="171" y="1506" font-size="15" textLength="82" lengthAdjust="spacingAndGlyphs">0.000±0.10</text>
<text x="261" y="1505" font-size="14" textLength="62" lengthAdjust="spacingAndGlyphs">X° X'±2°</text>
<text x="325" y="1386" textLength="42" lengthAdjust="spacingAndGlyphs">SCALE:</text>
<text x="352" y="1402" font-size="13">1:1</text>
<text x="405" y="1394" textLength="30" lengthAdjust="spacingAndGlyphs">NAME</text>
<text x="476" y="1394" textLength="30" lengthAdjust="spacingAndGlyphs">DATE</text>
<text x="338" y="1429" textLength="60" lengthAdjust="spacingAndGlyphs">APPROVED</text>
<text x="338" y="1465" textLength="60" lengthAdjust="spacingAndGlyphs">DESIGNER</text>
<text x="338" y="1501" textLength="38" lengthAdjust="spacingAndGlyphs">DRAWN</text>
<text x="405" y="1502" font-size="16" class="cjk" textLength="48" lengthAdjust="spacingAndGlyphs">肖坤权</text>
<text x="477" y="1502" font-size="16" textLength="80" lengthAdjust="spacingAndGlyphs">2017.06.16</text>
</g>
<text x="521" y="1413" font-size="44" font-weight="bold" font-style="italic" style="fill:#2f95e8;font-family:'Liberation Sans',sans-serif" textLength="83" lengthAdjust="spacingAndGlyphs">SIP</text>
<text x="612" y="1394" font-size="16" class="cjk" textLength="142" lengthAdjust="spacingAndGlyphs">深圳市思拓展电子有限公司</text>
<text x="612" y="1410" font-size="9" font-weight="bold" textLength="137" lengthAdjust="spacingAndGlyphs">SHENZHEN SINOTOP ELECTRONICS CO.,LTD</text>
<text x="533" y="1431" font-size="10" font-weight="bold" class="cjk" textLength="112" lengthAdjust="spacingAndGlyphs">公司网址: WWW.szsituo.cn</text>
<text x="533" y="1446" font-size="10" font-weight="bold" class="cjk" textLength="122" lengthAdjust="spacingAndGlyphs">邮　　箱: 2850175982@qq.com</text>
<text x="695" y="1431" font-size="10" font-weight="bold" class="cjk" textLength="110" lengthAdjust="spacingAndGlyphs">公司电话: 0755-23765350</text>
<text x="695" y="1446" font-size="10" font-weight="bold" class="cjk" textLength="110" lengthAdjust="spacingAndGlyphs">公司传真: 0755-23765341</text>
<text x="524" y="1473" font-size="13" class="d" textLength="42" lengthAdjust="spacingAndGlyphs">TITLE:</text>
<text x="677" y="1490" font-size="12" text-anchor="middle" class="d" textLength="205" lengthAdjust="spacingAndGlyphs">Pitch2.00mm Box Header,Dual Row,</text>
<text x="677" y="1505" font-size="10.5" text-anchor="middle" class="d" font-weight="bold" textLength="293" lengthAdjust="spacingAndGlyphs">Plastic Height 5.7mm,Elevator SMT (with Local Peg) Type</text>
<g font-size="13">
<text x="838" y="1390" textLength="60" lengthAdjust="spacingAndGlyphs">PART.NO:</text>
<text x="945" y="1418" text-anchor="middle" textLength="84" lengthAdjust="spacingAndGlyphs">ST-BF-200-020</text>
<text x="840" y="1447" textLength="50" lengthAdjust="spacingAndGlyphs">DWG.NO:</text>
<text x="836" y="1502" textLength="30" lengthAdjust="spacingAndGlyphs">REV:</text>
<text x="908" y="1506" font-size="19" text-anchor="middle" textLength="22" lengthAdjust="spacingAndGlyphs">A0</text>
<text x="952" y="1502" textLength="44" lengthAdjust="spacingAndGlyphs">SHEET:</text>
<text x="1029" y="1507" font-size="20" text-anchor="middle" textLength="30" lengthAdjust="spacingAndGlyphs">1/1</text>
</g>
</svg>
</body></html>
